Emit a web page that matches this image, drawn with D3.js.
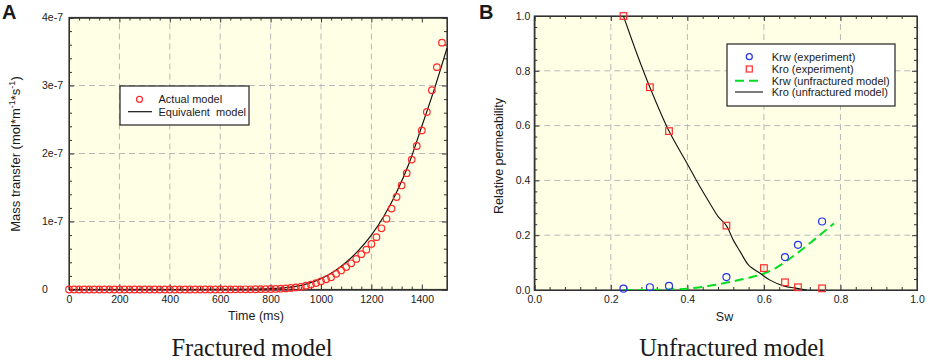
<!DOCTYPE html>
<html>
<head>
  <meta charset="utf-8">
  <script src="https://cdn.jsdelivr.net/npm/d3@7"></script>
  <style>
    body { margin: 0; background: #fff; }
    text { font-family: Arial, "Liberation Sans", sans-serif; fill: #1a1a1a; }
  </style>
</head>
<body>
<script>
  /* Panel A data, mass transfer in units of 1e-7 */
  var timeA = [0, 20, 40, 60, 80, 100, 120, 140, 160, 180, 200, 220, 240, 260, 280, 300, 320, 340, 360, 380,
    400, 420, 440, 460, 480, 500, 520, 540, 560, 580, 600, 620, 640, 660, 680, 700, 720, 740, 760, 780,
    800, 820, 840, 860, 880, 900, 920, 940, 960, 980, 1000, 1020, 1040, 1060, 1080, 1100, 1120, 1140, 1160, 1180,
    1200, 1220, 1240, 1260, 1280, 1300, 1320, 1340, 1360, 1380, 1400, 1420, 1440, 1460, 1480];
  var actualA = [0, 0, 0, 0, 0, 0, 0, 0, 0, 0, 0, 0, 0, 0, 0, 0, 0, 0, 0, 0,
    0, 0, 0, 0, 0, 0, 0, 0, 0, 0, 0, 0.001, 0.001, 0.002, 0.002, 0.003, 0.003, 0.004, 0.005, 0.006,
    0.007, 0.009, 0.012, 0.016, 0.022, 0.03, 0.04, 0.055, 0.072, 0.094, 0.12, 0.15, 0.18, 0.23, 0.28, 0.33, 0.385, 0.45, 0.52, 0.585,
    0.67, 0.77, 0.90, 1.04, 1.19, 1.36, 1.53, 1.71, 1.91, 2.11, 2.34, 2.61, 2.93, 3.27, 3.63];
  var eqTimeA = [0, 200, 400, 600, 700, 750, 800, 850, 900, 950, 1000, 1050, 1100, 1150, 1200, 1250, 1300, 1350, 1400, 1450, 1500];
  var eqValA = [0, 0, 0, 0.001, 0.003, 0.006, 0.012, 0.025, 0.045, 0.09, 0.16, 0.26, 0.40, 0.58, 0.80, 1.08, 1.43, 1.86, 2.40, 2.95, 3.55];
  var xTicksA = [0, 200, 400, 600, 800, 1000, 1200, 1400];
  var yTicksA = [0, 1, 2, 3, 4];

  /* Panel B data */
  var swKrw = [0.233, 0.302, 0.352, 0.502, 0.655, 0.689, 0.752];
  var krwExp = [0.005, 0.01, 0.015, 0.047, 0.12, 0.165, 0.25];
  var swKro = [0.233, 0.302, 0.352, 0.502, 0.60, 0.655, 0.689, 0.752];
  var kroExp = [1.0, 0.74, 0.58, 0.235, 0.08, 0.028, 0.01, 0.006];
  var swKrwModel = [0.233, 0.30, 0.36, 0.40, 0.433, 0.47, 0.503, 0.54, 0.573, 0.60, 0.634, 0.677, 0.73, 0.783];
  var krwModel = [0, 0, 0.002, 0.005, 0.01, 0.018, 0.027, 0.038, 0.049, 0.06, 0.083, 0.124, 0.182, 0.243];
  var swKroModel = [0.233, 0.27, 0.302, 0.352, 0.40, 0.433, 0.459, 0.481, 0.502, 0.52, 0.538, 0.56, 0.59, 0.616, 0.651, 0.686, 0.712];
  var kroModel = [1.0, 0.855, 0.74, 0.58, 0.46, 0.377, 0.316, 0.267, 0.235, 0.182, 0.14, 0.091, 0.061, 0.036, 0.015, 0.006, 0];
  var xTicksB = [0, 0.2, 0.4, 0.6, 0.8, 1.0];
  var yTicksB = [0, 0.2, 0.4, 0.6, 0.8, 1.0];

  var W = 941, H = 360;
  var svg = d3.select("body").append("svg").attr("width", W).attr("height", H);

  /* draws background, grid, frame with inward ticks on all four sides */
  function frame(x, y, xMajor, yMajor, xMinorN, yMinorN, xFmt, yFmt, yPad) {
    var g = svg.append("g");
    var x0 = x.range()[0], x1 = x.range()[1], y0 = y.range()[0], y1 = y.range()[1];
    g.append("rect").attr("x", x0).attr("y", y1).attr("width", x1 - x0).attr("height", y0 - y1)
      .attr("fill", "#ffffe6");
    var xMinor = [], yMinor = [];
    for (var i = 0; i < xMajor.length - 1; i++) {
      var s = (xMajor[i + 1] - xMajor[i]) / xMinorN;
      for (var k = 1; k < xMinorN; k++) xMinor.push(xMajor[i] + s * k);
    }
    for (var i = 0; i < yMajor.length - 1; i++) {
      var s = (yMajor[i + 1] - yMajor[i]) / yMinorN;
      for (var k = 1; k < yMinorN; k++) yMinor.push(yMajor[i] + s * k);
    }
    // grid
    g.selectAll(".gx").data(xMajor.slice(1, -1)).enter().append("line")
      .attr("x1", x).attr("x2", x).attr("y1", y0).attr("y2", y1)
      .attr("stroke", "#b8b8b8").attr("stroke-dasharray", "6,4");
    g.selectAll(".gy").data(yMajor.slice(1, -1)).enter().append("line")
      .attr("y1", y).attr("y2", y).attr("x1", x0).attr("x2", x1)
      .attr("stroke", "#b8b8b8").attr("stroke-dasharray", "6,4");
    // axes
    g.append("g").attr("transform", "translate(0," + y0 + ")")
      .call(d3.axisBottom(x).tickValues(xMajor).tickSize(-5).tickPadding(6).tickFormat(xFmt));
    g.append("g").attr("transform", "translate(0," + y0 + ")")
      .call(d3.axisBottom(x).tickValues(xMinor).tickSize(-3).tickFormat(""));
    g.append("g").attr("transform", "translate(0," + y1 + ")")
      .call(d3.axisTop(x).tickValues(xMajor).tickSize(-5).tickFormat(""));
    g.append("g").attr("transform", "translate(0," + y1 + ")")
      .call(d3.axisTop(x).tickValues(xMinor).tickSize(-3).tickFormat(""));
    var ly = g.append("g").attr("transform", "translate(" + x0 + ",0)")
      .call(d3.axisLeft(y).tickValues(yMajor).tickSize(-5).tickPadding(yPad).tickFormat(yFmt));
    g.append("g").attr("transform", "translate(" + x0 + ",0)")
      .call(d3.axisLeft(y).tickValues(yMinor).tickSize(-3).tickFormat(""));
    g.append("g").attr("transform", "translate(" + x1 + ",0)")
      .call(d3.axisRight(y).tickValues(yMajor).tickSize(-5).tickFormat(""));
    g.append("g").attr("transform", "translate(" + x1 + ",0)")
      .call(d3.axisRight(y).tickValues(yMinor).tickSize(-3).tickFormat(""));
    g.selectAll(".domain").attr("stroke", "#333");
    g.selectAll(".tick line").attr("stroke", "#333");
    g.selectAll(".tick text").style("font-size", "10.5px").attr("fill", "#1a1a1a");
    g.append("rect").attr("x", x0).attr("y", y1).attr("width", x1 - x0).attr("height", y0 - y1)
      .attr("fill", "none").attr("stroke", "#333").attr("stroke-width", 1.2);
    g.yAxis = ly;
    return g;
  }

  /* ---------- Panel A ---------- */
  var xA = d3.scaleLinear().domain([0, 1500]).range([69, 447]);
  var yA = d3.scaleLinear().domain([0, 4]).range([289.5, 17.5]);
  var fA = frame(xA, yA, xTicksA, yTicksA, 5, 5, d3.format("d"), function(d) { return d === 0 ? "0" : d + "e-7"; }, 7);
  // y tick labels of panel A are left aligned
  fA.yAxis.selectAll(".tick text").attr("text-anchor", "start").attr("x", -27);

  var lineA = d3.line().x(function(d, i) { return xA(eqTimeA[i]); }).y(function(d) { return yA(d); })
    .curve(d3.curveMonotoneX);
  svg.append("path").datum(eqValA).attr("d", lineA).attr("fill", "none").attr("stroke", "#111").attr("stroke-width", 1.2);
  svg.append("g").selectAll("circle").data(actualA).enter().append("circle")
    .attr("cx", function(d, i) { return xA(timeA[i]); }).attr("cy", function(d) { return yA(d); })
    .attr("r", 3.3).attr("fill", "none").attr("stroke", "#ff2a2a").attr("stroke-width", 1.2);

  // legend A
  var legA = svg.append("g");
  legA.append("rect").attr("x", 120).attr("y", 86).attr("width", 129).attr("height", 39)
    .attr("fill", "#fff").attr("stroke", "#222").attr("stroke-width", 1.2);
  legA.append("circle").attr("cx", 139.5).attr("cy", 99.3).attr("r", 3).attr("fill", "none")
    .attr("stroke", "#ff2a2a").attr("stroke-width", 1.2);
  legA.append("line").attr("x1", 128).attr("x2", 152).attr("y1", 111.7).attr("y2", 111.7)
    .attr("stroke", "#111").attr("stroke-width", 1.2);
  legA.append("text").attr("x", 158.5).attr("y", 103.2).style("font-size", "11px").text("Actual model");
  legA.append("text").attr("x", 158.5).attr("y", 115.6).style("font-size", "11px")
    .attr("xml:space", "preserve").text("Equivalent  model");

  svg.append("text").attr("x", 256).attr("y", 320).attr("text-anchor", "middle").style("font-size", "12.5px").text("Time (ms)");
  var yl = svg.append("text").attr("transform", "translate(20,154) rotate(-90)").attr("text-anchor", "middle")
    .style("font-size", "13px");
  yl.append("tspan").text("Mass transfer (mol*m");
  yl.append("tspan").attr("dy", -5).style("font-size", "9px").text("-1");
  yl.append("tspan").attr("dy", 5).text("*s");
  yl.append("tspan").attr("dy", -5).style("font-size", "9px").text("-1");
  yl.append("tspan").attr("dy", 5).text(")");
  svg.append("text").attr("x", 2).attr("y", 18.5).style("font-size", "20px").style("font-weight", "bold").text("A");
  svg.append("text").attr("x", 252).attr("y", 356).attr("text-anchor", "middle")
    .style("font-family", "'Liberation Serif', 'Times New Roman', serif").style("font-size", "24.5px").text("Fractured model");

  /* ---------- Panel B ---------- */
  var xB = d3.scaleLinear().domain([0, 1]).range([534.3, 917]);
  var yB = d3.scaleLinear().domain([0, 1]).range([290, 16]);
  frame(xB, yB, xTicksB, yTicksB, 5, 5, d3.format(".1f"), d3.format(".1f"), 4);

  svg.append("clipPath").attr("id", "clipB").append("rect")
    .attr("x", 534.3).attr("y", 16).attr("width", 382.7).attr("height", 274);
  var kroLine = d3.line().x(function(d, i) { return xB(swKroModel[i]); }).y(function(d) { return yB(d); })
    .curve(d3.curveCatmullRom);
  var krwLine = d3.line().x(function(d, i) { return xB(swKrwModel[i]); }).y(function(d) { return yB(d); })
    .curve(d3.curveMonotoneX);
  svg.append("path").datum(krwModel).attr("d", krwLine).attr("clip-path", "url(#clipB)")
    .attr("fill", "none").attr("stroke", "#00dd22").attr("stroke-width", 2).attr("stroke-dasharray", "9,5");
  svg.append("path").datum(kroModel).attr("d", kroLine).attr("clip-path", "url(#clipB)")
    .attr("fill", "none").attr("stroke", "#111").attr("stroke-width", 1.1);
  svg.append("g").selectAll("circle").data(krwExp).enter().append("circle")
    .attr("cx", function(d, i) { return xB(swKrw[i]); }).attr("cy", function(d) { return yB(d); })
    .attr("r", 3.5).attr("fill", "none").attr("stroke", "#2233ee").attr("stroke-width", 1.2);
  svg.append("g").selectAll("rect").data(kroExp).enter().append("rect")
    .attr("x", function(d, i) { return xB(swKro[i]) - 3.3; }).attr("y", function(d) { return yB(d) - 3.3; })
    .attr("width", 6.6).attr("height", 6.6).attr("fill", "none").attr("stroke", "#ff2a2a").attr("stroke-width", 1.2);

  // legend B
  var legB = svg.append("g");
  legB.append("rect").attr("x", 727).attr("y", 44).attr("width", 168).attr("height", 62)
    .attr("fill", "#fff").attr("stroke", "#222").attr("stroke-width", 1.2);
  legB.append("circle").attr("cx", 749.3).attr("cy", 56.7).attr("r", 3).attr("fill", "none")
    .attr("stroke", "#2233ee").attr("stroke-width", 1.2);
  legB.append("rect").attr("x", 746.3).attr("y", 66).attr("width", 6).attr("height", 6).attr("fill", "none")
    .attr("stroke", "#ff2a2a").attr("stroke-width", 1.2);
  legB.append("line").attr("x1", 735).attr("x2", 763).attr("y1", 80.7).attr("y2", 80.7)
    .attr("stroke", "#00dd22").attr("stroke-width", 2).attr("stroke-dasharray", "9,5");
  legB.append("line").attr("x1", 735).attr("x2", 763).attr("y1", 92).attr("y2", 92)
    .attr("stroke", "#111").attr("stroke-width", 1.1);
  var labelsB = ["Krw (experiment)", "Kro (experiment)", "Krw (unfractured model)", "Kro (unfractured model)"];
  legB.selectAll("text").data(labelsB).enter().append("text")
    .attr("x", 771.7).attr("y", function(d, i) { return [60.7, 72.6, 84.5, 96][i]; })
    .style("font-size", "11px").text(function(d) { return d; });

  svg.append("text").attr("x", 724.5).attr("y", 321).attr("text-anchor", "middle").style("font-size", "12.5px").text("Sw");
  svg.append("text").attr("transform", "translate(503,156) rotate(-90)").attr("text-anchor", "middle")
    .style("font-size", "12.5px").text("Relative permeability");
  svg.append("text").attr("x", 479).attr("y", 18.5).style("font-size", "20px").style("font-weight", "bold").text("B");
  svg.append("text").attr("x", 732).attr("y", 356).attr("text-anchor", "middle")
    .style("font-family", "'Liberation Serif', 'Times New Roman', serif").style("font-size", "24.5px").text("Unfractured model");
</script>
</body>
</html>
